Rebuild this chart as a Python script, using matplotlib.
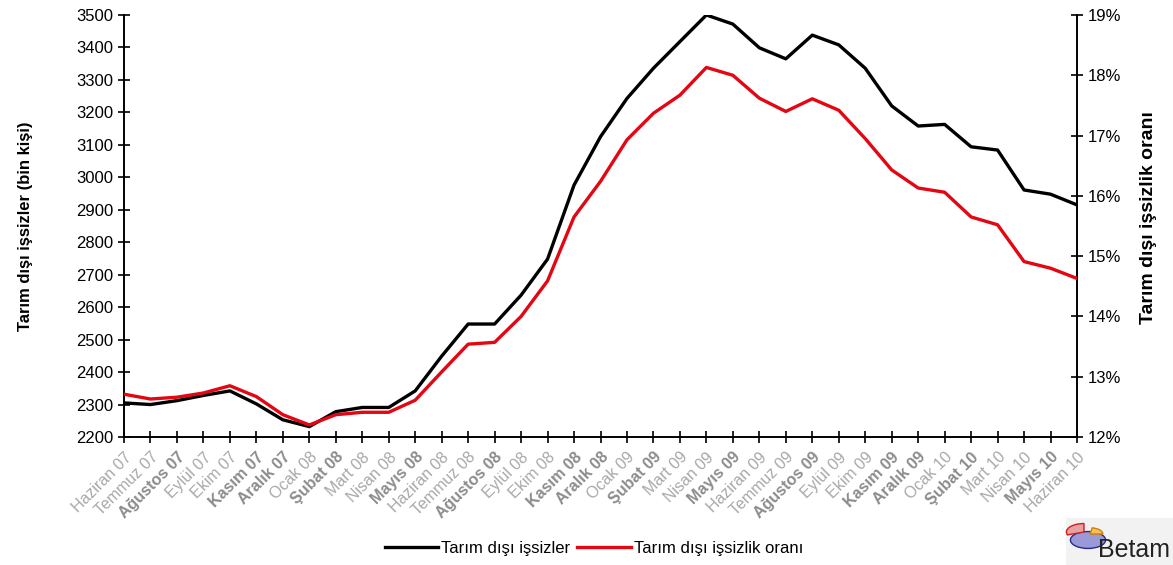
import matplotlib
matplotlib.use("Agg")
import matplotlib.pyplot as plt
from matplotlib.patches import Wedge, Ellipse, Rectangle

months = ["Haziran 07", "Temmuz 07", "Ağustos 07", "Eylül 07", "Ekim 07", "Kasım 07", "Aralık 07",
          "Ocak 08", "Şubat 08", "Mart 08", "Nisan 08", "Mayıs 08", "Haziran 08", "Temmuz 08",
          "Ağustos 08", "Eylül 08", "Ekim 08", "Kasım 08", "Aralık 08", "Ocak 09", "Şubat 09",
          "Mart 09", "Nisan 09", "Mayıs 09", "Haziran 09", "Temmuz 09", "Ağustos 09", "Eylül 09",
          "Ekim 09", "Kasım 09", "Aralık 09", "Ocak 10", "Şubat 10", "Mart 10", "Nisan 10",
          "Mayıs 10", "Haziran 10"]

unemployed = [2305, 2300, 2312, 2328, 2342, 2302, 2253, 2232, 2278, 2291, 2291, 2342, 2449,
              2548, 2548, 2637, 2748, 2976, 3125, 3243, 3336, 3418, 3500, 3472, 3399, 3365,
              3438, 3408, 3336, 3220, 3158, 3163, 3094, 3084, 2961, 2948, 2915]

rate = [12.71, 12.63, 12.66, 12.73, 12.85, 12.67, 12.37, 12.20, 12.37, 12.41, 12.41, 12.61,
        13.08, 13.54, 13.57, 14.00, 14.59, 15.65, 16.24, 16.93, 17.37, 17.67, 18.13, 18.00,
        17.62, 17.40, 17.61, 17.42, 16.95, 16.43, 16.13, 16.06, 15.65, 15.52, 14.91, 14.80,
        14.63]

left_ticks = list(range(2200, 3501, 100))
right_ticks = list(range(12, 20))

plt.rcParams['font.family'] = ['Liberation Sans', 'DejaVu Sans']

fig = plt.figure(figsize=(11.73, 5.65), dpi=100)
ax = fig.add_axes([124/1173, 1-437/565, (1077-124)/1173, (437-15)/565])
ax2 = ax.twinx()

x = list(range(len(months)))
l1, = ax.plot(x, unemployed, color='black', lw=2.4, label='Tarım dışı işsizler', zorder=3)
l2, = ax2.plot(x, rate, color='#e30613', lw=2.4, label='Tarım dışı işsizlik oranı', zorder=3)

ax.set_xlim(0, len(months)-1)
ax.set_ylim(2200, 3500)
ax2.set_ylim(12, 19)
ax.set_yticks(left_ticks)
ax.set_yticklabels([str(v) for v in left_ticks], fontsize=12)
ax2.set_yticks(right_ticks)
ax2.set_yticklabels([f"{v}%" for v in right_ticks], fontsize=12)

ax.set_xticks(x)
ax.set_xticklabels(months)
for lab in ax.get_xticklabels():
    t = lab.get_text()
    special = any(c in t for c in "ğışŞ")
    lab.set_rotation(45)
    lab.set_rotation_mode('anchor')
    lab.set_ha('right')
    lab.set_va('top')
    lab.set_fontsize(11.5)
    lab.set_color('#8c8c8c' if special else '#a8a8a8')
    if special:
        lab.set_fontweight('bold')

for a in (ax, ax2):
    a.spines['top'].set_visible(False)
    for s in a.spines.values():
        s.set_linewidth(1.2)
ax.tick_params(axis='both', direction='inout', length=8, width=1.2)
ax.tick_params(axis='x', pad=5)
ax2.tick_params(axis='y', direction='inout', length=8, width=1.2)

ax.set_ylabel('Tarım dışı işsizler (bin kişi)', fontsize=12, fontweight='bold', labelpad=31)
ax2.set_ylabel('Tarım dışı işsizlik oranı', fontsize=14, fontweight='bold', rotation=90)
ax2.yaxis.set_label_coords((1140-124)/953, 0.52)

fig.legend(handles=[l1, l2], loc='center', bbox_to_anchor=(594/1173, 1-548/565), ncol=2,
           frameon=False, fontsize=12, handlelength=3.2, columnspacing=0.4, handletextpad=0.2)

# Betam logo (approximation)
fig.patches.append(Rectangle((1066/1173, 0), 107/1173, 47/565, transform=fig.transFigure,
                             facecolor='#f2f2f2', edgecolor='none'))
fig.patches.append(Ellipse((1088/1173, 1-540/565), 0.03, 0.03, transform=fig.transFigure,
                           facecolor='#9a9ad8', edgecolor='#2a2a8a', lw=1))
fig.patches.append(Wedge((1084/1173, 1-532/565), 0.015, 90, 200, transform=fig.transFigure,
                         facecolor='#e8a0a0', edgecolor='#cc2020', lw=1))
fig.patches.append(Wedge((1090/1173, 1-534/565), 0.011, 0, 80, transform=fig.transFigure,
                         facecolor='#f5c060', edgecolor='#d08000', lw=1))
fig.text(1098/1173, 1-550/565, 'Betam', fontsize=18, color='#222222', va='center', ha='left')

fig.savefig('out.png', dpi=100, facecolor='white')
